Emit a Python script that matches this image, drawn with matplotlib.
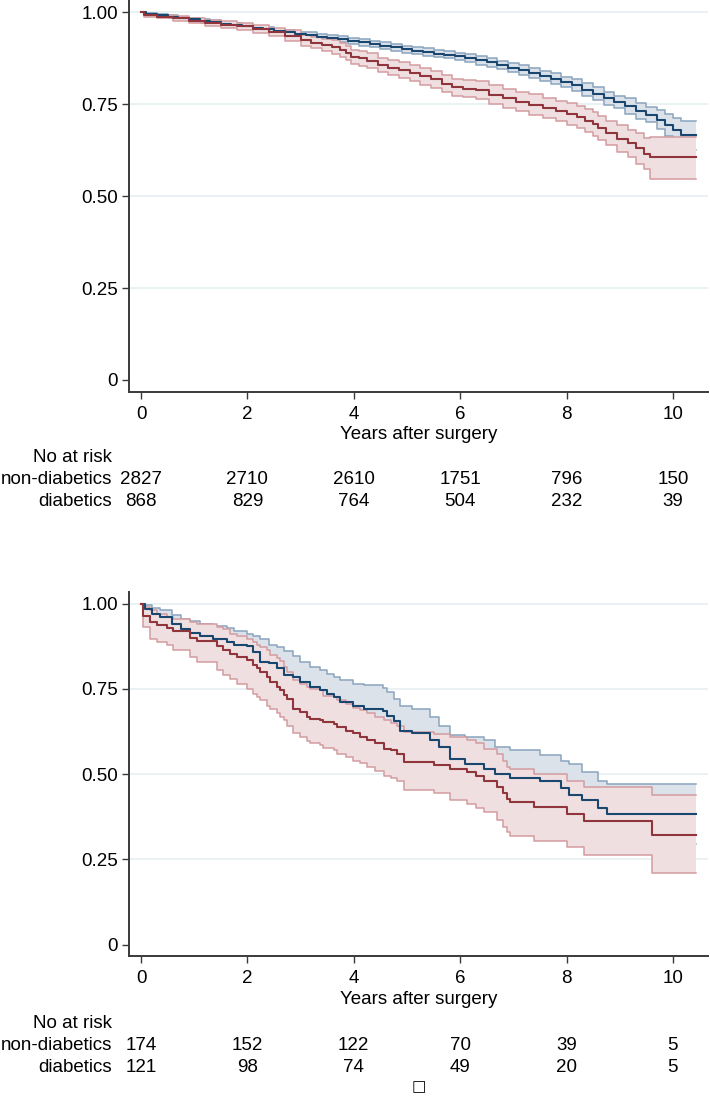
import matplotlib
matplotlib.use("Agg")
import matplotlib.pyplot as plt
from matplotlib.transforms import blended_transform_factory

plt.rcParams['font.family'] = ['Liberation Sans', 'DejaVu Sans']

# ---------------- data ----------------
risk_times = [0, 2, 4, 6, 8, 10]
group_labels = ["non-diabetics", "diabetics"]
y_ticks = [0, 0.25, 0.5, 0.75, 1.0]
y_ticklabels = ["0", "0.25", "0.50", "0.75", "1.00"]
x_ticks = [0, 2, 4, 6, 8, 10]
x_label = "Years after surgery"

# Panel A: non-diabetics
a_nd_t = [0, 0.1, 0.3, 0.5, 0.7, 0.9, 1.1, 1.3, 1.5, 1.7, 1.9, 2.1, 2.3, 2.5, 2.7, 2.9,
          3.1, 3.3, 3.5, 3.7, 3.9, 4.1, 4.3, 4.5, 4.7, 4.9, 5.1, 5.3, 5.5, 5.7, 5.9,
          6.1, 6.3, 6.5, 6.7, 6.9, 7.1, 7.3, 7.5, 7.7, 7.9, 8.1, 8.3, 8.5, 8.7, 8.9,
          9.1, 9.3, 9.5, 9.7, 9.85, 10.0, 10.15, 10.44]
a_nd_s = [1.000, 0.996, 0.992, 0.989, 0.985, 0.981, 0.977, 0.974, 0.970, 0.966, 0.962,
          0.958, 0.954, 0.950, 0.946, 0.942, 0.938, 0.934, 0.930, 0.927, 0.923, 0.919,
          0.914, 0.910, 0.905, 0.900, 0.896, 0.892, 0.888, 0.885, 0.881, 0.876, 0.870,
          0.864, 0.857, 0.850, 0.843, 0.835, 0.827, 0.820, 0.811, 0.803, 0.790, 0.779,
          0.766, 0.757, 0.745, 0.732, 0.722, 0.708, 0.694, 0.680, 0.666, 0.666]
a_nd_lo = [1.000, 0.994, 0.989, 0.985, 0.981, 0.977, 0.972, 0.969, 0.965, 0.961, 0.957,
           0.952, 0.948, 0.944, 0.940, 0.936, 0.930, 0.926, 0.922, 0.919, 0.915, 0.910,
           0.905, 0.901, 0.896, 0.891, 0.886, 0.882, 0.878, 0.875, 0.871, 0.864, 0.858,
           0.852, 0.845, 0.838, 0.829, 0.821, 0.813, 0.806, 0.797, 0.786, 0.773, 0.762,
           0.749, 0.740, 0.724, 0.711, 0.701, 0.682, 0.664, 0.646, 0.627, 0.627]
a_nd_hi = [1.000, 0.998, 0.995, 0.993, 0.989, 0.985, 0.982, 0.979, 0.975, 0.971, 0.967,
           0.964, 0.960, 0.956, 0.952, 0.948, 0.946, 0.942, 0.938, 0.935, 0.931, 0.928,
           0.923, 0.919, 0.914, 0.909, 0.906, 0.902, 0.898, 0.895, 0.891, 0.888, 0.882,
           0.876, 0.869, 0.862, 0.857, 0.849, 0.841, 0.834, 0.825, 0.820, 0.807, 0.796,
           0.783, 0.774, 0.766, 0.753, 0.743, 0.734, 0.724, 0.714, 0.705, 0.705]

# Panel A: diabetics
a_d_t = [0, 0.05, 0.3, 0.6, 0.9, 1.2, 1.5, 1.8, 2.1, 2.4, 2.7, 3.0, 3.2, 3.4, 3.6, 3.75,
         3.85, 3.95, 4.1, 4.25, 4.45, 4.65, 4.85, 5.05, 5.25, 5.45, 5.65, 5.85, 6.05,
         6.3, 6.55, 6.8, 7.05, 7.3, 7.55, 7.8, 8.0, 8.2, 8.35, 8.5, 8.6, 8.75, 8.95,
         9.15, 9.3, 9.45, 9.57, 10.44]
a_d_s = [1.000, 0.993, 0.989, 0.984, 0.978, 0.972, 0.967, 0.962, 0.955, 0.947, 0.937,
         0.925, 0.918, 0.912, 0.906, 0.898, 0.891, 0.880, 0.875, 0.869, 0.857, 0.850,
         0.843, 0.835, 0.826, 0.818, 0.806, 0.796, 0.793, 0.789, 0.776, 0.766, 0.757,
         0.749, 0.740, 0.732, 0.725, 0.715, 0.706, 0.697, 0.685, 0.671, 0.657, 0.644,
         0.630, 0.616, 0.606, 0.606]
a_d_lo = [1.000, 0.989, 0.984, 0.978, 0.971, 0.964, 0.958, 0.952, 0.944, 0.935, 0.923,
          0.910, 0.902, 0.895, 0.888, 0.879, 0.872, 0.861, 0.855, 0.849, 0.837, 0.829,
          0.822, 0.814, 0.803, 0.795, 0.783, 0.772, 0.769, 0.765, 0.750, 0.740, 0.731,
          0.721, 0.712, 0.704, 0.695, 0.685, 0.676, 0.664, 0.652, 0.638, 0.620, 0.607,
          0.587, 0.573, 0.546, 0.546]
a_d_hi = [1.000, 0.997, 0.994, 0.990, 0.985, 0.980, 0.976, 0.972, 0.966, 0.959, 0.951,
          0.940, 0.934, 0.929, 0.924, 0.917, 0.910, 0.899, 0.895, 0.889, 0.877, 0.871,
          0.864, 0.856, 0.849, 0.841, 0.829, 0.820, 0.817, 0.813, 0.802, 0.792, 0.783,
          0.777, 0.768, 0.760, 0.755, 0.745, 0.736, 0.730, 0.718, 0.704, 0.694, 0.681,
          0.673, 0.659, 0.660, 0.660]

# Panel B: non-diabetics
b_nd_t = [0, 0.075, 0.2, 0.35, 0.58, 0.75, 0.92, 1.11, 1.36, 1.61, 1.75, 1.99, 2.11,
          2.24, 2.4, 2.55, 2.68, 2.85, 2.99, 3.18, 3.37, 3.5, 3.62, 3.74, 3.99, 4.2,
          4.55, 4.62, 4.75, 4.87, 5.1, 5.44, 5.6, 5.81, 6.1, 6.44, 6.65, 6.94, 7.5,
          7.9, 8.05, 8.3, 8.6, 8.76, 10.44]
b_nd_s = [1.000, 0.985, 0.970, 0.960, 0.940, 0.925, 0.915, 0.905, 0.897, 0.887, 0.880,
          0.875, 0.858, 0.830, 0.825, 0.812, 0.790, 0.785, 0.770, 0.756, 0.746, 0.735,
          0.726, 0.712, 0.699, 0.692, 0.685, 0.670, 0.657, 0.628, 0.620, 0.600, 0.580,
          0.545, 0.530, 0.516, 0.500, 0.490, 0.480, 0.458, 0.440, 0.423, 0.400, 0.383,
          0.383]
b_nd_lo = [1.000, 0.975, 0.952, 0.938, 0.912, 0.895, 0.882, 0.870, 0.859, 0.846, 0.840,
           0.838, 0.811, 0.765, 0.770, 0.752, 0.720, 0.725, 0.710, 0.697, 0.687, 0.675,
           0.667, 0.649, 0.633, 0.624, 0.618, 0.600, 0.594, 0.556, 0.550, 0.532, 0.520,
           0.475, 0.450, 0.432, 0.420, 0.410, 0.404, 0.376, 0.350, 0.340, 0.320, 0.296,
           0.296]
b_nd_hi = [1.000, 0.995, 0.988, 0.982, 0.968, 0.955, 0.948, 0.940, 0.935, 0.928, 0.920,
           0.912, 0.905, 0.895, 0.880, 0.872, 0.860, 0.845, 0.830, 0.815, 0.805, 0.795,
           0.785, 0.775, 0.765, 0.760, 0.752, 0.740, 0.720, 0.700, 0.690, 0.668, 0.640,
           0.615, 0.610, 0.600, 0.580, 0.570, 0.556, 0.540, 0.530, 0.506, 0.480, 0.470,
           0.470]

# Panel B: diabetics
b_d_t = [0, 0.03, 0.17, 0.30, 0.48, 0.61, 0.92, 1.05, 1.42, 1.55, 1.67, 1.80, 1.99, 2.10,
         2.18, 2.24, 2.37, 2.43, 2.55, 2.61, 2.68, 2.75, 2.86, 2.99, 3.12, 3.18, 3.37,
         3.43, 3.62, 3.68, 3.85, 3.99, 4.12, 4.24, 4.40, 4.56, 4.70, 4.81, 4.94, 5.5,
         5.81, 6.13, 6.3, 6.44, 6.69, 6.8, 6.88, 6.94, 7.38, 8.0, 8.32, 9.6, 10.44]
b_d_s = [1.000, 0.963, 0.946, 0.937, 0.928, 0.920, 0.900, 0.890, 0.877, 0.863, 0.853,
         0.843, 0.834, 0.820, 0.810, 0.800, 0.785, 0.770, 0.756, 0.746, 0.731, 0.720,
         0.690, 0.682, 0.668, 0.663, 0.658, 0.653, 0.648, 0.638, 0.628, 0.620, 0.609,
         0.600, 0.590, 0.575, 0.570, 0.560, 0.536, 0.527, 0.516, 0.506, 0.495, 0.480,
         0.463, 0.445, 0.428, 0.418, 0.403, 0.384, 0.364, 0.322, 0.322]
b_d_lo = [1.000, 0.930, 0.895, 0.887, 0.878, 0.865, 0.843, 0.830, 0.805, 0.790, 0.780,
          0.765, 0.750, 0.736, 0.726, 0.716, 0.700, 0.690, 0.678, 0.668, 0.658, 0.640,
          0.620, 0.610, 0.598, 0.592, 0.585, 0.578, 0.570, 0.560, 0.550, 0.540, 0.532,
          0.522, 0.510, 0.495, 0.488, 0.480, 0.455, 0.445, 0.425, 0.412, 0.400, 0.390,
          0.365, 0.345, 0.330, 0.320, 0.305, 0.286, 0.262, 0.210, 0.210]
b_d_hi = [1.000, 0.990, 0.980, 0.970, 0.962, 0.955, 0.946, 0.940, 0.930, 0.925, 0.912,
          0.905, 0.897, 0.887, 0.880, 0.873, 0.863, 0.850, 0.840, 0.832, 0.814, 0.800,
          0.775, 0.765, 0.755, 0.750, 0.746, 0.730, 0.726, 0.716, 0.705, 0.695, 0.687,
          0.680, 0.668, 0.658, 0.650, 0.640, 0.624, 0.618, 0.609, 0.600, 0.590, 0.575,
          0.560, 0.540, 0.520, 0.516, 0.500, 0.480, 0.463, 0.440, 0.440]

risk_a_nd = [2827, 2710, 2610, 1751, 796, 150]
risk_a_d = [868, 829, 764, 504, 232, 39]
risk_b_nd = [174, 152, 122, 70, 39, 5]
risk_b_d = [121, 98, 74, 49, 20, 5]

# ---------------- style ----------------
NAVY = "#1a476f"
MAROON = "#90353b"
NAVY_FILL = "#dce2ea"
NAVY_EDGE = "#8aa4be"
MAROON_FILL = "#efdfe0"
MAROON_EDGE = "#d39ca0"
GRID = "#e6eff1"
SPINE = "#3a3a3a"
FS = 13.5

W, H = 710, 1097
fig = plt.figure(figsize=(W / 100, H / 100), dpi=100)

def fy(px):
    return 1 - px / H

left = 129 / W
width = (708 - 129) / W
ylim = (-0.033, 1.034)
xlim = (-0.226, 10.66)

panels = [
    dict(rect=[left, fy(392.0), width, 392.0 / H],
         nd=(a_nd_t, a_nd_s, a_nd_lo, a_nd_hi), d=(a_d_t, a_d_s, a_d_lo, a_d_hi),
         risk=(risk_a_nd, risk_a_d), rows=(458, 479, 502), xlab=434),
    dict(rect=[left, fy(956.0), width, 364.0 / H],
         nd=(b_nd_t, b_nd_s, b_nd_lo, b_nd_hi), d=(b_d_t, b_d_s, b_d_lo, b_d_hi),
         risk=(risk_b_nd, risk_b_d), rows=(1024, 1045, 1067), xlab=1000),
]

for p in panels:
    ax = fig.add_axes(p["rect"])
    ax.set_xlim(*xlim)
    ax.set_ylim(*ylim)
    for g in [0.25, 0.5, 0.75, 1.0]:
        ax.axhline(g, color=GRID, lw=1.2, zorder=0)

    # CI bands (non-diabetics first, then diabetics on top)
    z = 2.0
    for (t, s, lo, hi), fc, ec in [(p["nd"], NAVY_FILL, NAVY_EDGE),
                                   (p["d"], MAROON_FILL, MAROON_EDGE)]:
        ax.fill_between(t, lo, hi, step="post", facecolor=fc, edgecolor="none", zorder=z)
        ax.step(t, lo, where="post", color=ec, lw=1.1, zorder=z + 0.1)
        ax.step(t, hi, where="post", color=ec, lw=1.1, zorder=z + 0.1)
        z += 0.5
    # survival curves
    ax.step(p["nd"][0], p["nd"][1], where="post", color=NAVY, lw=1.5, zorder=4)
    ax.step(p["d"][0], p["d"][1], where="post", color=MAROON, lw=1.5, zorder=4)

    for side in ["top", "right"]:
        ax.spines[side].set_visible(False)
    for side in ["left", "bottom"]:
        ax.spines[side].set_color(SPINE)
        ax.spines[side].set_linewidth(1.4)
    ax.set_yticks(y_ticks)
    ax.set_yticklabels(y_ticklabels)
    ax.set_xticks(x_ticks)
    ax.tick_params(axis="both", direction="out", length=5, width=1.0, color=SPINE,
                   labelsize=FS, labelcolor="black")
    ax.tick_params(axis="y", pad=3)
    ax.tick_params(axis="x", pad=5)

    h_px = p["rect"][3] * H
    bottom_px = (1 - p["rect"][1]) * H
    ax.set_xlabel(x_label, fontsize=FS, va="center")
    ax.xaxis.set_label_coords(0.5, -(p["xlab"] - bottom_px) / h_px)

    # risk table
    tr = blended_transform_factory(ax.transData, fig.transFigure)
    r0, r1, r2 = p["rows"]
    lab_x = 112 / W
    fig.text(lab_x, fy(r0), "No at risk", ha="right", va="center", fontsize=FS)
    fig.text(lab_x, fy(r1), group_labels[0], ha="right", va="center", fontsize=FS)
    fig.text(lab_x, fy(r2), group_labels[1], ha="right", va="center", fontsize=FS)
    for tx, n1, n2 in zip(risk_times, p["risk"][0], p["risk"][1]):
        ax.text(tx, fy(r1), str(n1), transform=tr, ha="center", va="center", fontsize=FS)
        ax.text(tx, fy(r2), str(n2), transform=tr, ha="center", va="center", fontsize=FS)

fig.text(419 / W, fy(1087), "\u25a1", ha="center", va="center", fontsize=11,
         family=["DejaVu Sans"])

fig.savefig("out.png", dpi=100)
